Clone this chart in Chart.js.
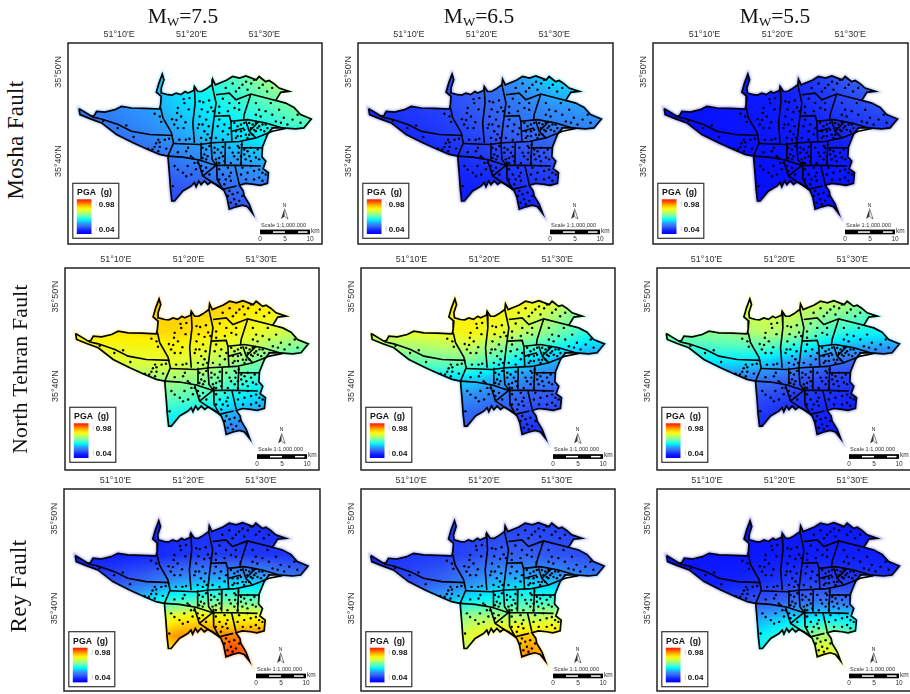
<!DOCTYPE html>
<html><head><meta charset="utf-8">
<script src="https://cdn.jsdelivr.net/npm/chart.js@4"></script>
<style>
html,body{margin:0;padding:0;background:#fff;overflow:hidden;width:910px;height:694px}
canvas{position:absolute;filter:blur(.35px)}
.hd{position:absolute;font-family:"Liberation Serif",serif;color:#111;white-space:nowrap}
.col{font-size:21.5px;transform:translateX(-50%);top:4px}
.col sub{font-size:13px;vertical-align:-3px;line-height:0}
.row{transform:translate(-50%,-50%) rotate(-90deg);letter-spacing:.3px}
</style></head><body>
<div id="page"></div>
<script>
// Values: longitude = arc-minutes east of 51°, latitude = arc-minutes north of 35°
const lonTicks=[10,20,30];
const latTicks=[40,50];
const magnitudes=["7.5","6.5","5.5"];
const faults=["Mosha Fault","North Tehran Fault","Rey Fault"];
const legendMax="0.98", legendMin="0.04";
const scaleLabels=["0","5","10"];

const cityOutline=[[4.47,45.88],[4.61,45.21],[5.98,44.76],[7.58,44.28],[9.64,42.98],[11.93,42.05],[13.98,41.3],[15.58,40.75],[16.73,40.56],[16.96,38.33],[17.09,36.85],[17.27,35.54],[17.64,35.54],[18.78,36.66],[19.93,37.21],[20.38,37.59],[20.61,37.14],[20.98,37.77],[21.3,37.37],[21.76,37.77],[22.21,37.4],[22.67,37.66],[23.36,37.4],[24.04,37.03],[24.5,36.66],[24.87,35.92],[25.19,34.61],[26.1,34.88],[27,35.06],[27.7,34.88],[28.39,34.17],[27.93,35.17],[27.24,36.1],[27.1,36.66],[26.56,37.29],[27.47,37.5],[28.6,37.4],[29.44,37.29],[30.44,37.51],[30.58,38.7],[29.85,39.15],[30.21,40],[29.67,40.49],[29.76,41.6],[30.44,42.98],[31.13,43.72],[32.5,43.72],[34.33,43.61],[35.47,43.72],[36.48,44.72],[35,45.21],[34.1,46.02],[32.96,46.5],[31.59,46.8],[32.27,47.7],[33.42,47.81],[32.04,48.18],[31.3,48.7],[30.67,49.03],[30.2,48.9],[29.3,49.48],[28.9,49.1],[27.47,49.55],[26.6,49.3],[25.64,49.48],[24.8,49.05],[24.04,48.81],[23.27,48.55],[22.9,49.18],[22.81,48.55],[21.98,48.07],[21.4,47.8],[20.84,47.81],[20.38,48.37],[20.29,47.92],[19.47,47.62],[19.1,47.8],[18.5,47.45],[17.87,47.62],[17.3,47.4],[16.73,47.44],[15.9,47.62],[15.81,48.18],[16.18,49.11],[15.95,49.74],[15.49,48.74],[15.13,47.73],[15.81,47.25],[15.72,46.32],[15.58,45.84],[13.53,45.91],[11.7,45.95],[10.33,46.13],[9.41,45.76],[8.04,45.5],[6.9,45.58],[6.57,45.09],[6.21,45.02],[5.3,45.47],[4.47,45.88]];

const westDivide=[[6.3,44.95],[7.58,44.72],[9.87,44.09],[11.7,43.35],[14.21,42.98],[17.41,42.87]];
const westEdge=[[15.72,46],[16.04,44.84],[17.18,43.24],[17.5,42.05],[16.73,40.56]];
const mainBelt=[[17.5,41.97],[21.07,41.86],[22.9,42.05],[26.56,42.2],[28.84,42.6],[31.13,43.35],[32.96,43.65]];
const southBelt=[[16.73,40.56],[18.78,40.45],[21.07,40.12],[23.36,39.52],[26.1,39.52],[29.53,39.45]];
const northA=[[20.38,48.18],[20.48,46.51],[20.16,44.28],[20.38,42.05]];
const northB=[[22.81,48.55],[23.36,46.51],[22.99,44.28],[22.67,42.05],[22.81,40.19],[23.45,39.5]];
const mountainBase=[[23.36,47.44],[25.19,47.62],[26.1,46.88],[28.15,47.51],[31.59,46.8]];
const northC=[[28.15,47.51],[27.24,45.21],[27.15,44.58]];
const midBox=[[23.13,45.02],[25.19,45.1],[25.41,44.46],[25.55,42.12]];
const eastBeltA=[[25.41,44.46],[27.7,44.65],[30.21,44.28],[32.5,43.72]];
const eastBeltB=[[27.47,44.46],[27.93,43.35],[28.84,42.6]];
const eastBeltC=[[27.93,43.35],[29.3,44.46]];
const eastBeltD=[[25.55,43.35],[27.24,43.72]];
const centreA=[[21.3,42.05],[21.3,40.19]];
const centreB=[[24.64,42.05],[24.59,39.63]];
const centreC=[[26.92,42.16],[26.79,39.56]];
const centreD=[[26.92,41.49],[29.76,41.49]];
const southA=[[20.84,40.08],[21.53,38.33],[24.27,36.85]];
const southB=[[21.53,38.33],[22.67,39.08],[23.36,39.52]];
const southC=[[23.45,39.95],[23.5,38],[24.27,36.85],[26.19,37.22]];
const southD=[[25.96,39.52],[26.56,37.4]];
const districtLines=[westDivide,westEdge,mainBelt,southBelt,northA,northB,mountainBase,northC,midBox,eastBeltA,eastBeltB,eastBeltC,eastBeltD,centreA,centreB,centreC,centreD,southA,southB,southC,southD];

const siteDots=[[7.8,44.5],[9.8,43.7],[11,44],[12,42.7],[14,41.4],[14.6,41.3],[14.9,41.6],[15.4,42.4],[15.6,42.1],[16.3,42.4],[16.9,42.5],[15.6,41.6],[15.1,42],[15.4,41.1],[14.9,45.3],[15.6,45],[15.8,44.4],[16.5,41.4],
[18.1,45.95],[18.9,46.95],[19.7,47.06],[18,45.4],[17.3,44.7],[17.9,44.6],[19.15,44.35],[18.1,43.7],[18.9,43.7],[19.7,42.5],[19.2,42.4],[17.6,44.1],[18.55,45],[19.6,45.8],[18.3,42.4],[19,46.5],
[21.1,46.7],[21.6,46.6],[22.4,46.8],[21.4,45.8],[22.2,45.5],[23,45.6],[21.1,45],[22,44.65],[20.85,43.7],[21.75,43.35],[22.2,43],[21.3,42.6],[22,42.4],[22.55,42.6],[21,44.1],[22.35,43.9],[22.7,46],[21.5,44.1],
[24.3,47],[25.2,46.5],[25.9,45.95],[23.8,46.1],[25,45.6],[26.55,46.5],[23.8,45.4],[26.55,45.75],
[23.6,43.9],[24.3,43.35],[25,43],[23.35,42.6],[24.3,42.4],[25.2,43.7],[23.8,44.65],[24.5,44.1],
[24.7,48.2],[25.65,48.7],[27.5,48.9],[28.2,48.7],[29.3,48.2],[29.8,48.55],[31.1,48.2],[26.55,48.2],[26.1,47.8],[27.7,48],[30.4,47.8],[28.6,49.1],[27,48.55],
[28.85,46.5],[30.2,45.6],[31.1,45.2],[32.05,45.75],[32.7,44.85],[33.9,44.65],[32.3,44.3],[29.5,45],[30.9,46.5],[29.3,45.75],[31.6,44.45],[33.2,44.1],[34.6,45.2],[35,44.3],[28.85,45.2],
[25.87,44.28],[26.33,43.9],[26.8,44.1],[27.24,44.28],[27.93,44.28],[28.4,44.1],[28.84,44.28],[29.3,43.9],[29.76,44.1],[30.2,44.1],[28.15,43.7],[28.6,43.5],[29.07,43.7],[29.53,43.5],[26.1,43.35],[26.8,43.35],[27.47,42.95],[26.8,42.8],[26.1,42.6],[27.93,42.95],[28.4,42.95],[28.84,43.35],[30,43.35],[30.44,43.7],[31.13,43.7],[27.24,43.5],[26.33,42.8],[27.7,42.6],
[18.1,41],[19.25,41.1],[19.9,40.55],[20.15,40.35],[19.5,41.5],[21.5,41.5],[22,41.3],[21.75,40.75],[22.2,40.55],[21.5,40.35],[22,40.2],[22.45,41.7],[23.15,41.5],[23.6,41.3],[24.05,40.95],[24.3,40.55],[23.8,40.35],[23.35,40.2],[23.15,40.95],[24.3,41.6],[23.8,39.8],[24.5,40],[25.2,41.5],[25.65,40.95],[25.85,40.55],[26.35,41.7],[26.55,41.5],[26.45,40.95],[26.8,40.55],[26.35,40.2],[26.9,41.85],[27.25,41.3],[27.7,41.1],[28.15,41.5],[28.6,40.95],[27.95,40.55],[28.85,40.4],[27.45,40.2],[28.15,40],[29.1,41.3],[25.4,39.8],[26.8,39.8],[27.25,40.75],[29.3,40.2],
[17.65,39.45],[19.45,39.45],[19.25,38.3],[18.8,38.7],[19.95,38.5],[17.4,37.2],[20.4,39.8],[20.6,39.1],[18.1,39.05],
[21.3,39.45],[22,39.25],[22.45,38.5],[21.5,38.9],[20.85,39.8],
[23.8,39.1],[24.3,38.5],[25,39.25],[25.4,38.7],[24.7,37.95],[25.4,37.8],[23.8,37.95],[24.5,37.4],[25.2,38.3],
[27,39.25],[27.7,38.7],[28.6,38.9],[29.3,39.05],[27.5,37.95],[28.6,37.95],[29.3,38.15],[29.75,38.7],[26.8,38.5],[30.2,38.5],[28.15,39.45],[29.75,37.8],
[25.2,36.66],[25.65,36.3],[26.33,36.47],[25.87,35.73],[26.56,35.55],[25.4,35.35],[26.1,35.17],[27,36.1],[25,36.1]];

// PGA (g) read from the colour field on a coarse lon/lat lattice
const fieldLon=[4,9,14,18,22,26,30,34,38];
const fieldLat=[50,46,43,41,39,37,35];
const moshaM75=[[.27,.30,.35,.40,.45,.51,.60,.67,.70],[.25,.27,.31,.36,.40,.44,.48,.53,.55],[.22,.24,.27,.31,.35,.38,.42,.44,.45],[.20,.21,.23,.27,.30,.33,.36,.37,.37],[.18,.19,.21,.23,.25,.28,.30,.31,.31],[.17,.17,.18,.19,.21,.23,.25,.26,.26],[.15,.15,.16,.17,.18,.19,.20,.21,.21]];
const moshaM65=[[.14,.15,.17,.21,.26,.33,.40,.42,.42],[.13,.14,.16,.19,.22,.26,.29,.31,.32],[.11,.12,.14,.16,.19,.22,.24,.25,.25],[.10,.11,.12,.14,.16,.18,.20,.20,.20],[.09,.10,.10,.12,.13,.15,.16,.17,.17],[.09,.09,.10,.10,.11,.13,.14,.14,.14],[.08,.08,.09,.09,.10,.11,.12,.12,.12]];
const moshaM55=[[.07,.07,.08,.09,.12,.16,.21,.22,.22],[.06,.06,.07,.08,.10,.13,.16,.18,.18],[.05,.05,.06,.07,.08,.10,.12,.13,.13],[.05,.05,.05,.06,.07,.08,.10,.10,.10],[.04,.04,.05,.05,.06,.07,.08,.08,.08],[.04,.04,.04,.05,.05,.06,.06,.06,.06],[.04,.04,.04,.04,.05,.05,.05,.05,.05]];
const northM75=[[.76,.78,.79,.80,.80,.80,.78,.74,.70],[.74,.76,.77,.78,.76,.73,.68,.64,.60],[.68,.68,.68,.69,.65,.60,.54,.48,.46],[.62,.62,.60,.60,.57,.51,.45,.40,.39],[.55,.54,.53,.52,.49,.42,.37,.34,.33],[.48,.46,.45,.43,.40,.33,.31,.30,.30],[.40,.40,.39,.38,.30,.26,.25,.25,.25]];
const northM65=[[.72,.74,.76,.77,.76,.74,.68,.58,.55],[.66,.68,.70,.73,.68,.61,.53,.45,.42],[.52,.52,.54,.55,.47,.38,.33,.29,.28],[.42,.42,.40,.38,.33,.28,.25,.23,.23],[.34,.33,.31,.29,.25,.21,.19,.19,.19],[.26,.25,.24,.22,.20,.17,.16,.16,.16],[.20,.19,.18,.17,.15,.13,.13,.13,.13]];
const northM55=[[.62,.66,.70,.70,.70,.67,.62,.52,.48],[.55,.56,.58,.62,.58,.48,.43,.41,.40],[.40,.40,.40,.38,.32,.26,.23,.22,.22],[.30,.29,.27,.25,.21,.17,.15,.15,.15],[.24,.22,.20,.18,.15,.13,.12,.12,.12],[.20,.18,.16,.14,.12,.11,.10,.10,.10],[.14,.13,.12,.11,.09,.09,.09,.09,.09]];
const reyM75=[[.09,.10,.10,.11,.12,.12,.12,.12,.12],[.09,.10,.11,.13,.15,.15,.14,.14,.14],[.14,.18,.23,.30,.34,.36,.36,.28,.25],[.24,.30,.38,.46,.50,.52,.50,.42,.38],[.40,.50,.60,.72,.76,.72,.74,.68,.60],[.50,.60,.72,.86,.88,.88,.88,.72,.65],[.55,.62,.72,.74,.80,.96,.85,.68,.65]];
const reyM65=[[.12,.13,.14,.14,.15,.15,.15,.15,.15],[.12,.14,.15,.17,.20,.21,.19,.18,.18],[.14,.17,.22,.28,.34,.36,.34,.28,.26],[.22,.27,.33,.40,.44,.46,.46,.38,.36],[.34,.42,.50,.60,.62,.62,.66,.55,.50],[.42,.50,.60,.68,.76,.80,.78,.60,.55],[.45,.52,.60,.62,.72,.88,.78,.60,.55]];
const reyM55=[[.06,.06,.07,.07,.08,.08,.08,.08,.08],[.06,.07,.07,.08,.09,.10,.10,.10,.10],[.08,.09,.11,.13,.15,.16,.15,.13,.13],[.11,.13,.16,.19,.22,.24,.23,.20,.19],[.18,.22,.27,.33,.38,.40,.40,.34,.30],[.24,.30,.36,.42,.50,.62,.50,.42,.38],[.28,.32,.38,.42,.55,.72,.62,.50,.45]];
const panelFields=[moshaM75,moshaM65,moshaM55,northM75,northM65,northM55,reyM75,reyM65,reyM55];

const rampStops=[[0,0,0,255],[.1,15,30,255],[.2,50,90,245],[.3,45,150,250],[.4,0,240,255],[.5,90,255,190],[.6,170,255,120],[.68,230,255,50],[.75,255,240,0],[.85,255,160,0],[.92,255,90,0],[1,255,20,0]];
function rampColor(t){t=Math.max(0,Math.min(1,t));let i=0;while(i<rampStops.length-2&&t>rampStops[i+1][0])i++;const a=rampStops[i],b=rampStops[i+1],f=(t-a[0])/(b[0]-a[0]);return [a[1]+(b[1]-a[1])*f,a[2]+(b[2]-a[2])*f,a[3]+(b[3]-a[3])*f];}

function sampleField(g,lon,lat){
  let i=0;while(i<fieldLon.length-2&&lon>fieldLon[i+1])i++;
  let j=0;while(j<fieldLat.length-2&&lat<fieldLat[j+1])j++;
  const u=Math.max(0,Math.min(1,(lon-fieldLon[i])/(fieldLon[i+1]-fieldLon[i])));
  const v=Math.max(0,Math.min(1,(lat-fieldLat[j])/(fieldLat[j+1]-fieldLat[j])));
  return (g[j][i]*(1-u)+g[j][i+1]*u)*(1-v)+(g[j+1][i]*(1-u)+g[j+1][i+1]*u)*v;
}

// Panel frames on the page
const frames=[
 {x:68,y:43,w:255,h:202,ticksX:[119.3,192.3,265],ticksY:[161.7,72]},
 {x:358,y:43,w:256,h:202,ticksX:[409,482,555],ticksY:[161.7,72]},
 {x:653,y:43,w:256,h:202,ticksX:[704.7,777.7,851],ticksY:[161.7,72]},
 {x:65,y:268,w:255,h:203,ticksX:[116,189,262],ticksY:[386.7,296.7]},
 {x:361,y:268,w:255,h:203,ticksX:[411.7,484.7,558],ticksY:[386.7,296.7]},
 {x:657,y:268,w:255,h:203,ticksX:[706.7,779.7,853],ticksY:[386.7,296.7]},
 {x:64,y:489,w:257,h:203,ticksX:[115.7,188.7,261.7],ticksY:[609,518.7]},
 {x:361,y:489,w:255,h:203,ticksX:[411.3,484.3,557.7],ticksY:[609,518.7]},
 {x:657,y:489,w:255,h:203,ticksX:[707,780,853],ticksY:[609,518.7]}
];
const legendInset=[5.7,7.7,4.3], scaleInset=[12,13.4,15];
const GUTTER_X=36,GUTTER_Y=26,MARGIN=3;

function tracePath(c,chart,ox,oy){const xs=chart.scales.x,ys=chart.scales.y;c.beginPath();cityOutline.forEach((p,i)=>{const X=xs.getPixelForValue(p[0])-ox,Y=ys.getPixelForValue(p[1])-oy;i?c.lineTo(X,Y):c.moveTo(X,Y);});c.closePath();}

const fieldPlugin={id:'field',beforeDatasetsDraw(chart){
  const a=chart.chartArea,ctx=chart.ctx,g=chart.options.plugins.field.grid;
  const W=Math.ceil(a.width),H=Math.ceil(a.height);
  const off=document.createElement('canvas');off.width=W;off.height=H;
  const oc=off.getContext('2d'),img=oc.createImageData(W,H);
  const xs=chart.scales.x,ys=chart.scales.y;
  for(let py=0;py<H;py++){const lat=ys.getValueForPixel(a.top+py);
    for(let px=0;px<W;px++){const lon=xs.getValueForPixel(a.left+px);
      const c=rampColor(sampleField(g,lon,lat)),k=(py*W+px)*4;
      img.data[k]=c[0];img.data[k+1]=c[1];img.data[k+2]=c[2];img.data[k+3]=255;}}
  oc.putImageData(img,0,0);
  const mask=document.createElement('canvas');mask.width=W;mask.height=H;
  const m=mask.getContext('2d');m.filter='blur(1.3px)';m.lineWidth=3.5;m.strokeStyle='#000';
  tracePath(m,chart,a.left,a.top);m.stroke();m.filter='none';
  m.globalCompositeOperation='source-in';m.drawImage(off,0,0);
  ctx.save();ctx.globalAlpha=.4;ctx.drawImage(mask,a.left,a.top);ctx.globalAlpha=1;
  tracePath(ctx,chart,0,0);ctx.clip();ctx.drawImage(off,a.left,a.top);ctx.restore();
}};

const furniturePlugin={id:'furniture',afterDraw(chart){
  const a=chart.chartArea,c=chart.ctx,o=chart.options.plugins.furniture;
  c.save();
  c.strokeStyle='#222';c.lineWidth=1.5;c.strokeRect(a.left,a.top,a.width,a.height);
  // PGA legend
  const lx=a.left+4.8,ly=a.bottom-o.legend-55;
  c.fillStyle='#fff';c.fillRect(lx,ly,46,55);
  c.strokeStyle='#333';c.lineWidth=1.2;c.strokeRect(lx,ly,46,55);
  c.fillStyle='#111';c.textBaseline='alphabetic';c.textAlign='left';
  c.font='bold 8.7px "Liberation Sans",Arial,sans-serif';c.fillText('PGA  (g)',lx+4.3,ly+12);
  const ramp=c.createLinearGradient(0,ly+50.7,0,ly+16);
  rampStops.forEach(s=>ramp.addColorStop(s[0],`rgb(${s[1]},${s[2]},${s[3]})`));
  c.fillStyle=ramp;c.fillRect(lx+4,ly+16,14.7,34.7);
  c.fillStyle='#bbb';c.fillRect(lx+23,ly+18,.7,5);c.fillRect(lx+23,ly+43,.7,5);
  c.fillStyle='#111';c.textBaseline='middle';c.font='bold 8px "Liberation Sans",Arial,sans-serif';
  c.fillText(legendMax,lx+26,ly+21);c.fillText(legendMin,lx+26,ly+46);
  // scale bar + north arrow
  const bx=a.left+192,by=a.bottom-o.scale;
  c.fillStyle='#000';c.fillRect(bx,by-2.4,50,4.7);
  c.fillStyle='#fff';c.fillRect(bx+13,by-.7,12,1.5);c.fillRect(bx+38,by-.7,9.5,1.5);
  c.fillStyle='#333';c.textAlign='left';c.font='5.6px "Liberation Sans",Arial,sans-serif';
  c.fillText('Scale 1:1,000,000',bx+1,by-7);
  c.font='6.5px "Liberation Sans",Arial,sans-serif';c.textAlign='center';
  scaleLabels.forEach((t,i)=>c.fillText(t,bx+i*25,by+7.5));
  c.textAlign='left';c.fillText('km',bx+51,by-1);
  c.font='5px "Liberation Sans",Arial,sans-serif';c.textAlign='center';c.fillStyle='#222';
  c.fillText('N',bx+24.5,by-26.5);
  c.fillStyle='#333';c.beginPath();c.moveTo(bx+24.5,by-23.5);c.lineTo(bx+21,by-13);c.lineTo(bx+24.5,by-15.5);c.closePath();c.fill();
  c.strokeStyle='#333';c.lineWidth=.6;c.beginPath();c.moveTo(bx+24.5,by-23.5);c.lineTo(bx+28,by-13);c.lineTo(bx+24.5,by-15.5);c.stroke();
  c.restore();
}};

const toXY=a=>a.map(p=>({x:p[0],y:p[1]}));
const page=document.getElementById('page');

frames.forEach((f,i)=>{
  const row=Math.floor(i/3);
  const pxLon=(f.ticksX[2]-f.ticksX[0])/20, pxLat=(f.ticksY[0]-f.ticksY[1])/10;
  const xMin=10-(f.ticksX[0]-f.x)/pxLon, xMax=xMin+f.w/pxLon;
  const yMax=50+(f.ticksY[1]-f.y)/pxLat, yMin=yMax-f.h/pxLat;
  const cv=document.createElement('canvas');
  const cw=GUTTER_X+f.w+MARGIN, ch=GUTTER_Y+f.h+MARGIN;
  cv.width=cw;cv.height=ch;cv.style.width=cw+'px';cv.style.height=ch+'px';
  cv.style.left=(f.x-GUTTER_X)+'px';cv.style.top=(f.y-GUTTER_Y)+'px';
  page.appendChild(cv);
  const font={family:'"Liberation Sans",Arial,sans-serif',size:9};
  const datasets=[
    {data:toXY(siteDots),showLine:false,pointRadius:1.2,pointBorderWidth:0,pointBackgroundColor:'#000',order:0},
    {data:toXY(cityOutline),showLine:true,borderColor:'#000',borderWidth:1.7,pointRadius:0,tension:0,order:1}
  ];
  districtLines.forEach(l=>datasets.push({data:toXY(l),showLine:true,borderColor:'#000',borderWidth:1.6,pointRadius:0,tension:0,order:2}));
  new Chart(cv,{type:'scatter',data:{datasets},plugins:[fieldPlugin,furniturePlugin],options:{
    responsive:false,animation:false,events:[],
    layout:{padding:{left:0,top:0,right:MARGIN,bottom:MARGIN}},
    plugins:{legend:{display:false},tooltip:{enabled:false},title:{display:false},
      field:{grid:panelFields[i]},furniture:{legend:legendInset[row],scale:scaleInset[row]}},
    scales:{
      x:{type:'linear',position:'top',min:xMin,max:xMax,
        grid:{display:false,drawTicks:false},border:{display:false},
        afterBuildTicks:s=>{s.ticks=lonTicks.map(v=>({value:v}));},
        afterFit:s=>{s.height=GUTTER_Y;},
        ticks:{autoSkip:false,maxRotation:0,padding:3,color:'#333',font,callback:v=>`51°${v}'E`}},
      y:{type:'linear',position:'left',min:yMin,max:yMax,
        grid:{display:false,drawTicks:false},border:{display:false},
        afterBuildTicks:s=>{s.ticks=latTicks.map(v=>({value:v}));},
        afterFit:s=>{s.width=GUTTER_X;},
        ticks:{autoSkip:false,minRotation:90,maxRotation:90,crossAlign:'center',padding:-6,color:'#333',font,callback:v=>`35°${v}'N`}}
    }}});
});

const colCentres=[183,479,775], rowCentres=[[16,140,23],[20,369,21.5],[19,586,23]];
magnitudes.forEach((m,i)=>{const d=document.createElement('div');d.className='hd col';d.style.left=colCentres[i]+'px';d.innerHTML=`M<sub>W</sub>=${m}`;document.body.appendChild(d);});
faults.forEach((t,i)=>{const d=document.createElement('div');d.className='hd row';d.style.left=rowCentres[i][0]+'px';d.style.top=rowCentres[i][1]+'px';d.style.fontSize=rowCentres[i][2]+'px';d.textContent=t;document.body.appendChild(d);});
</script>
</body></html>
